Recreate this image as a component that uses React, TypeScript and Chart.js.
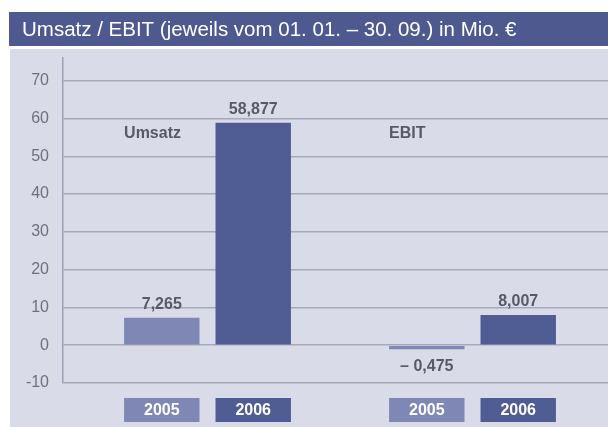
import React, { useEffect, useRef } from "react";
import { Chart, registerables } from "chart.js";

Chart.register(...registerables);

const titleText = "Umsatz / EBIT (jeweils vom 01. 01. – 30. 09.) in Mio. €";
const categories = ["Umsatz", "EBIT"];
const years = ["2005", "2006"];
const values2005 = [7.265, -0.475];
const values2006 = [58.877, 8.007];
const valueLabels2005 = ["7,265", "– 0,475"];
const valueLabels2006 = ["58,877", "8,007"];
const yTicks = [-10, 0, 10, 20, 30, 40, 50, 60, 70];

const W = 608;
const H = 427;
const BG = "#d9dbe9";
const TITLE_BG = "#4e5a8f";
const C2005 = "#7f88b5";
const C2006 = "#505d94";
const TEXT = "#585a66";
const FONT = "'Liberation Sans', Arial, Helvetica, sans-serif";

const valueLabels = [valueLabels2005, valueLabels2006];

const decor = {
  id: "decor",
  beforeDraw(chart: any) {
    const ctx = chart.ctx;
    ctx.save();
    ctx.fillStyle = "#ffffff";
    ctx.fillRect(0, 0, W, H);
    ctx.fillStyle = BG;
    ctx.fillRect(10, 49, W - 10, H - 49);
    ctx.fillStyle = TITLE_BG;
    ctx.fillRect(9, 12, W - 9, 34);
    ctx.fillStyle = "#ffffff";
    ctx.font = "20.5px " + FONT;
    ctx.textBaseline = "middle";
    ctx.textAlign = "left";
    ctx.fillText(titleText, 22, 30);
    ctx.restore();
  },
  afterDatasetsDraw(chart: any) {
    const ctx = chart.ctx;
    const area = chart.chartArea;
    const yScale = chart.scales.y;
    ctx.save();
    ctx.textBaseline = "middle";
    ctx.textAlign = "center";
    for (let d = 0; d < chart.data.datasets.length; d++) {
      const meta = chart.getDatasetMeta(d);
      const ds = chart.data.datasets[d];
      meta.data.forEach((el: any, i: number) => {
        const v = (ds.data[i] as any).y;
        const top = Math.min(el.y, el.base);
        const bottom = Math.max(el.y, el.base);
        ctx.fillStyle = TEXT;
        ctx.font = "bold 16px " + FONT;
        if (v >= 0) {
          ctx.fillText(valueLabels[d][i], el.x, top - 13);
        } else {
          ctx.fillText(valueLabels[d][i], el.x, bottom + 17);
        }
        const bx = el.x - el.width / 2;
        const by = area.bottom + 15;
        ctx.fillStyle = ds.backgroundColor;
        ctx.fillRect(bx, by, el.width, 24);
        ctx.fillStyle = "#ffffff";
        ctx.fillText(years[d], el.x, by + 12.5);
        if (d === 0) {
          ctx.fillStyle = TEXT;
          ctx.textAlign = "left";
          ctx.fillText(categories[i], bx, yScale.getPixelForValue(60) + 15);
          ctx.textAlign = "center";
        }
      });
    }
    ctx.restore();
  },
};

export default function App() {
  const ref = useRef<HTMLCanvasElement | null>(null);
  useEffect(() => {
    document.body.style.margin = "0";
    const canvas = ref.current;
    if (!canvas) return;
    const chart = new Chart(canvas, {
      type: "bar",
      data: {
        datasets: [
          {
            label: years[0],
            data: values2005.map((v, i) => ({ x: i, y: v })),
            backgroundColor: C2005,
            borderWidth: 0,
          },
          {
            label: years[1],
            data: values2006.map((v, i) => ({ x: i, y: v })),
            backgroundColor: C2006,
            borderWidth: 0,
          },
        ],
      },
      options: {
        animation: false,
        responsive: false,
        events: [],
        categoryPercentage: 0.69,
        barPercentage: 0.825,
        minBarLength: 4,
        layout: { padding: { top: 58, bottom: 44, left: 0, right: 0 } },
        plugins: {
          legend: { display: false },
          tooltip: { enabled: false },
          title: { display: false },
        },
        scales: {
          x: {
            type: "linear",
            display: false,
            offset: false,
            bounds: "data",
            min: -0.5453,
            max: 1.5113,
            afterBuildTicks: (scale: any) => {
              scale.ticks = categories.map((_, i) => ({ value: i }));
            },
            grid: { display: false, offset: false },
          },
          y: {
            type: "linear",
            min: -10,
            max: 76,
            afterBuildTicks: (scale: any) => {
              scale.ticks = yTicks.map((v) => ({ value: v }));
            },
            afterFit: (scale: any) => {
              scale.width = 63;
            },
            ticks: {
              padding: 14,
              color: "#6e707d",
              font: { family: FONT, size: 16 },
              callback: (v: any) => String(v),
            },
            grid: { color: "#a6a9ba", lineWidth: 1.5, drawTicks: false },
            border: { display: true, color: "#9c9fb1", width: 1.5 },
          },
        },
      } as any,
      plugins: [decor],
    });
    return () => chart.destroy();
  }, []);
  return (
    <div style={{ position: "absolute", left: 0, top: 0, width: W, height: H }}>
      <canvas ref={ref} width={W} height={H} style={{ display: "block" }} />
    </div>
  );
}
